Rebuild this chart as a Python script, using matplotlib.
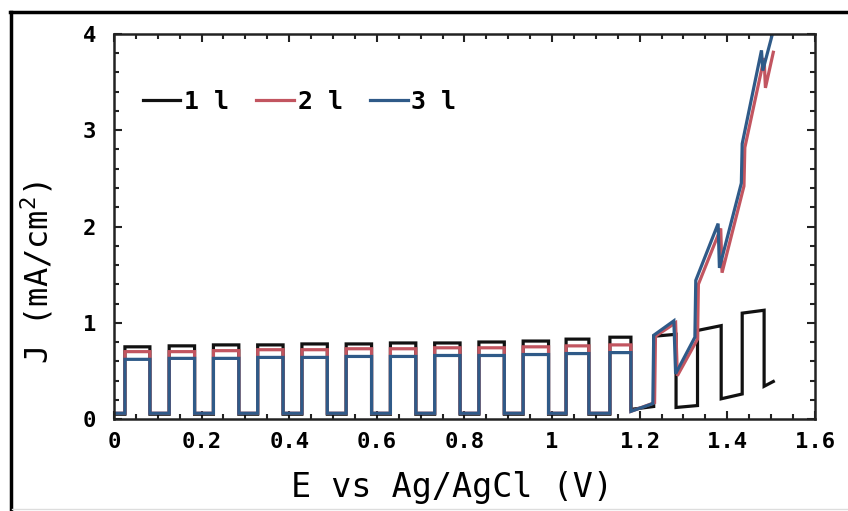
import matplotlib
matplotlib.use("Agg")
import matplotlib.pyplot as plt
from matplotlib.lines import Line2D
from matplotlib.ticker import MultipleLocator, FormatStrFormatter

plt.rcParams["font.family"] = ["DejaVu Sans Mono", "DejaVu Sans"]
plt.rcParams["mathtext.fontset"] = "custom"
plt.rcParams["mathtext.rm"] = "DejaVu Sans Mono"
plt.rcParams["mathtext.default"] = "rm"

# chopped-light pulses: potential where light switches on / off (V)
rise_E = [0.025, 0.126, 0.227, 0.328, 0.429, 0.530, 0.631, 0.732, 0.833, 0.934, 1.032, 1.132, 1.232, 1.332, 1.434]
fall_E = [0.082, 0.184, 0.285, 0.386, 0.487, 0.588, 0.689, 0.790, 0.891, 0.992, 1.084, 1.180, 1.283, 1.386, 1.484]

# 1 l (black)
black_top_on = [0.75, 0.76, 0.77, 0.77, 0.78, 0.78, 0.79, 0.79, 0.80, 0.81, 0.83, 0.85, 0.86, 0.92, 1.10]
black_top_off = [0.75, 0.76, 0.77, 0.77, 0.78, 0.78, 0.79, 0.79, 0.80, 0.81, 0.83, 0.85, 0.88, 0.97, 1.13]
black_low_before = [0.05, 0.05, 0.05, 0.05, 0.05, 0.05, 0.05, 0.05, 0.05, 0.05, 0.05, 0.05, 0.13, 0.14, 0.26]
black_low_after = [0.05, 0.05, 0.05, 0.05, 0.05, 0.05, 0.05, 0.05, 0.05, 0.05, 0.05, 0.10, 0.12, 0.21, 0.34]
black_end = (1.505, 0.39)

# 2 l (red): 12 square pulses then the rising tail
red_top = [0.70, 0.70, 0.71, 0.72, 0.72, 0.73, 0.73, 0.74, 0.74, 0.75, 0.76, 0.77]
red_low_before = [0.06, 0.06, 0.06, 0.06, 0.06, 0.06, 0.06, 0.06, 0.06, 0.06, 0.06, 0.06]
red_low_after = [0.06, 0.06, 0.06, 0.06, 0.06, 0.06, 0.06, 0.06, 0.06, 0.06, 0.06, 0.08]
red_tail_E = [1.234, 1.236, 1.282, 1.286, 1.332, 1.334, 1.385, 1.388, 1.438, 1.440, 1.484, 1.487, 1.505]
red_tail_J = [0.17, 0.86, 1.00, 0.45, 0.83, 1.40, 1.98, 1.52, 2.42, 2.82, 3.75, 3.44, 3.81]

# 3 l (blue)
blue_top = [0.62, 0.63, 0.63, 0.64, 0.64, 0.65, 0.65, 0.66, 0.66, 0.67, 0.68, 0.69]
blue_low_before = [0.06, 0.06, 0.06, 0.06, 0.06, 0.06, 0.06, 0.06, 0.06, 0.06, 0.06, 0.06]
blue_low_after = [0.06, 0.06, 0.06, 0.06, 0.06, 0.06, 0.06, 0.06, 0.06, 0.06, 0.06, 0.08]
blue_tail_E = [1.230, 1.232, 1.278, 1.282, 1.326, 1.328, 1.379, 1.382, 1.432, 1.434, 1.478, 1.481, 1.503]
blue_tail_J = [0.16, 0.87, 1.02, 0.47, 0.85, 1.44, 2.03, 1.57, 2.45, 2.86, 3.83, 3.62, 4.00]

labels = ["1 l", "2 l", "3 l"]
colors = ["#111111", "#c25560", "#2f5a88"]


def square_wave(n, tops_on, tops_off, low_before, low_after):
    """Vertices of a chopped-light trace for the first n pulses."""
    es, js = [0.0], [low_before[0]]
    for k in range(n):
        es += [rise_E[k], rise_E[k], fall_E[k], fall_E[k]]
        js += [low_before[k], tops_on[k], tops_off[k], low_after[k]]
    return es, js


bE, bJ = square_wave(15, black_top_on, black_top_off, black_low_before, black_low_after)
bE.append(black_end[0])
bJ.append(black_end[1])

rE, rJ = square_wave(12, red_top, red_top, red_low_before, red_low_after)
rE += red_tail_E
rJ += red_tail_J

uE, uJ = square_wave(12, blue_top, blue_top, blue_low_before, blue_low_after)
uE += blue_tail_E
uJ += blue_tail_J

fig = plt.figure(figsize=(8.48, 5.11), dpi=100)
ax = fig.add_axes([0.1344, 0.180, 0.8266, 0.7535])

for (es, js), lab, col in zip([(bE, bJ), (rE, rJ), (uE, uJ)], labels, colors):
    ax.plot(es, js, color=col, linewidth=2.3, label=lab, solid_joinstyle="miter")

ax.set_xlim(0, 1.6)
ax.set_ylim(0, 4)
ax.xaxis.set_major_locator(MultipleLocator(0.2))
ax.xaxis.set_minor_locator(MultipleLocator(0.05))
ax.yaxis.set_major_locator(MultipleLocator(1))
ax.yaxis.set_minor_locator(MultipleLocator(0.2))
ax.xaxis.set_major_formatter(FormatStrFormatter("%g"))
ax.tick_params(which="both", direction="in", top=True, right=True, width=1.5, color="#222222")
ax.tick_params(which="major", length=6)
ax.tick_params(which="minor", length=3.5)
ax.tick_params(axis="x", which="major", labelsize=16, pad=9)
ax.tick_params(axis="y", which="major", labelsize=16, pad=13)
for lbl in ax.get_xticklabels() + ax.get_yticklabels():
    lbl.set_fontweight("bold")
for sp in ax.spines.values():
    sp.set_linewidth(1.8)
    sp.set_color("#222222")

ax.set_xlabel("E vs Ag/AgCl (V)", fontsize=24)
ax.set_ylabel("J (mA/cm$^2$)", fontsize=23)
ax.xaxis.set_label_coords(0.482, -0.135)
ax.yaxis.set_label_coords(-0.083, 0.38)

ax.legend(loc="center left", bbox_to_anchor=(0.041, 0.823), ncol=3, frameon=False,
          prop={"size": 18, "weight": "bold"}, handlelength=1.5, handletextpad=0.15,
          columnspacing=1.1, borderpad=0, borderaxespad=0)

# outer frame of the original image
fig.add_artist(Line2D([10.5 / 848, 10.5 / 848], [0, 1 - 12 / 511], color="black", linewidth=2.5,
                      transform=fig.transFigure))
fig.add_artist(Line2D([9.5 / 848, 1], [1 - 12 / 511, 1 - 12 / 511], color="black", linewidth=2.5,
                      transform=fig.transFigure))
fig.add_artist(Line2D([12 / 848, 1], [2 / 511, 2 / 511], color="#dddddd", linewidth=1,
                      transform=fig.transFigure))

fig.savefig("out.png", dpi=100)
